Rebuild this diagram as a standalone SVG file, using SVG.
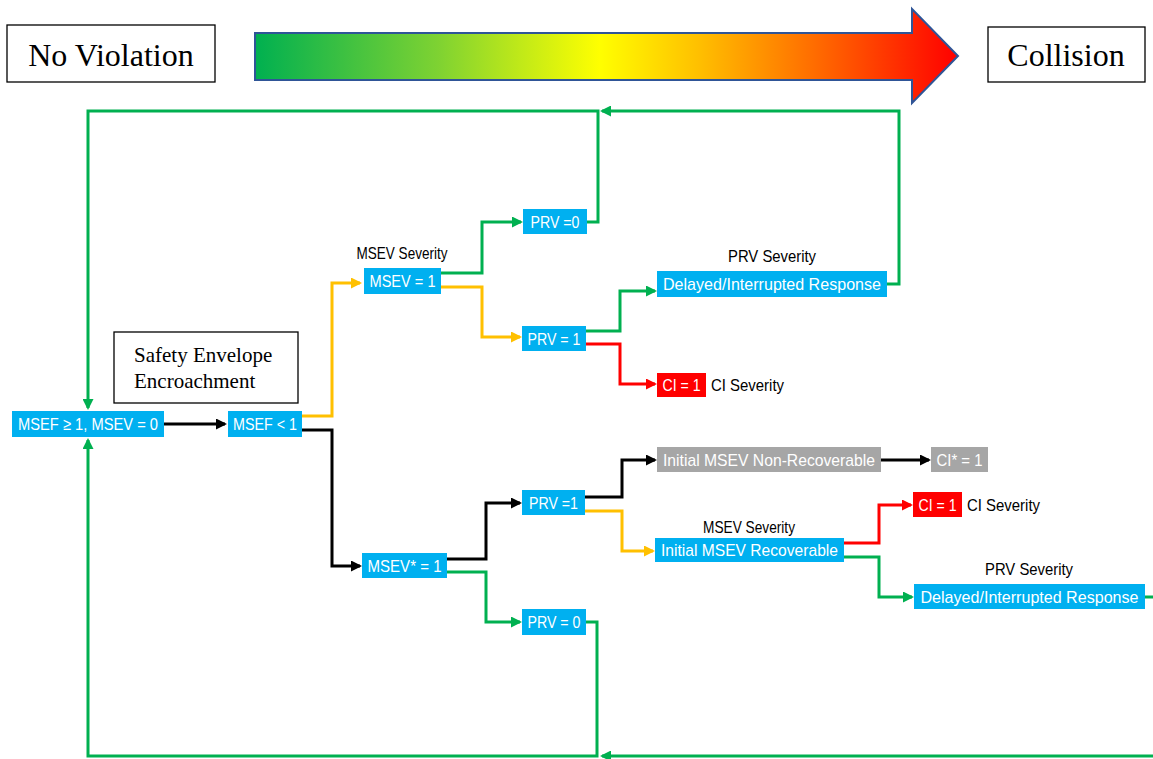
<svg xmlns="http://www.w3.org/2000/svg" width="1153" height="759" viewBox="0 0 1153 759">
<style>
.serif{font-family:"Liberation Serif","Times New Roman",serif;fill:#000}
.lbl{font-family:"Liberation Sans",Arial,sans-serif;font-size:17px;fill:#000}
.bt{font-family:"Liberation Sans",Arial,sans-serif;font-size:17px;fill:#fff;text-anchor:middle}
.blue{fill:#00B0F0}
.gray{fill:#A6A6A6}
.red{fill:#FF0000}
.frame{fill:#fff;stroke:#000;stroke-width:1.3}
.c{fill:none;stroke-width:3;stroke-linejoin:miter}
.g{stroke:#00B050}
.y{stroke:#FFC000}
.k{stroke:#000}
.r{stroke:#FF0000}
</style>
<defs>
<linearGradient id="grad" gradientUnits="userSpaceOnUse" x1="255" y1="0" x2="958" y2="0">
<stop offset="0" stop-color="#00B050"/>
<stop offset="0.26" stop-color="#7ED232"/>
<stop offset="0.49" stop-color="#FFFF00"/>
<stop offset="0.63" stop-color="#FFC000"/>
<stop offset="0.8" stop-color="#FF6A00"/>
<stop offset="1" stop-color="#FF0000"/>
</linearGradient>
<marker id="mg" markerWidth="11" markerHeight="11" refX="9" refY="5.5" orient="auto" markerUnits="userSpaceOnUse"><path d="M0,0 L11,5.5 L0,11 z" fill="#00B050"/></marker>
<marker id="my" markerWidth="11" markerHeight="11" refX="9" refY="5.5" orient="auto" markerUnits="userSpaceOnUse"><path d="M0,0 L11,5.5 L0,11 z" fill="#FFC000"/></marker>
<marker id="mk" markerWidth="11" markerHeight="11" refX="9" refY="5.5" orient="auto" markerUnits="userSpaceOnUse"><path d="M0,0 L11,5.5 L0,11 z" fill="#000"/></marker>
<marker id="mr" markerWidth="11" markerHeight="11" refX="9" refY="5.5" orient="auto" markerUnits="userSpaceOnUse"><path d="M0,0 L11,5.5 L0,11 z" fill="#FF0000"/></marker>
</defs>
<rect width="1153" height="759" fill="#fff"/>

<g id="scale-arrow">
<polygon points="255,33 912,33 912,9 958,56 912,103 912,80 255,80" fill="url(#grad)" stroke="#2F5597" stroke-width="2"/>
</g>
<g id="no-violation">
<rect class="frame" x="7" y="25" width="208" height="57"/>
<text class="serif" x="111" y="66" font-size="32" text-anchor="middle">No Violation</text>
</g>
<g id="collision">
<rect class="frame" x="988" y="27" width="157" height="55"/>
<text class="serif" x="1066" y="66" font-size="32" text-anchor="middle">Collision</text>
</g>
<g id="safety-envelope">
<rect class="frame" x="114" y="332" width="184" height="71"/>
<text class="serif" x="134" y="362" font-size="21">Safety Envelope</text>
<text class="serif" x="134" y="388" font-size="21">Encroachment</text>
</g>

<g id="connectors">
<path class="c k" d="M164,424 H225" marker-end="url(#mk)"/>
<path class="c y" d="M302,416 H332 V283 H360" marker-end="url(#my)"/>
<path class="c k" d="M302,430 H332 V566 H360" marker-end="url(#mk)"/>
<path class="c g" d="M441,273 H482 V222 H521" marker-end="url(#mg)"/>
<path class="c y" d="M441,287 H482 V337 H520" marker-end="url(#my)"/>
<path class="c g" d="M586,331 H620 V291 H655" marker-end="url(#mg)"/>
<path class="c r" d="M586,344 H620 V384 H655" marker-end="url(#mr)"/>
<path class="c g" d="M587,222 H598 V111 H88 V408" marker-end="url(#mg)"/>
<path class="c g" d="M887,284 H899 V111 H602" marker-end="url(#mg)"/>
<path class="c k" d="M447,559 H486 V503 H520" marker-end="url(#mk)"/>
<path class="c g" d="M447,572 H486 V622 H520" marker-end="url(#mg)"/>
<path class="c k" d="M585,497 H622 V460 H655" marker-end="url(#mk)"/>
<path class="c y" d="M585,511 H622 V551 H653" marker-end="url(#my)"/>
<path class="c k" d="M881,460 H929" marker-end="url(#mk)"/>
<path class="c r" d="M844,543 H879 V505 H911" marker-end="url(#mr)"/>
<path class="c g" d="M844,557 H879 V597 H912" marker-end="url(#mg)"/>
<path class="c g" d="M586,622 H597 V756 H88 V440" marker-end="url(#mg)"/>
<path class="c g" d="M1145,597 H1160 V756 H602" marker-end="url(#mg)"/>
</g>

<g id="msef-ok"><rect class="blue" x="12" y="411" width="152" height="26"/><text class="bt" x="88" y="430" textLength="140" lengthAdjust="spacingAndGlyphs">MSEF ≥ 1, MSEV = 0</text></g>
<g id="msef-lt1"><rect class="blue" x="228" y="411" width="74" height="26"/><text class="bt" x="265" y="430" textLength="64" lengthAdjust="spacingAndGlyphs">MSEF &lt; 1</text></g>
<g id="msev1"><text class="lbl" x="402" y="259" font-size="15" text-anchor="middle" textLength="91" lengthAdjust="spacingAndGlyphs">MSEV Severity</text><rect class="blue" x="364" y="268" width="77" height="26"/><text class="bt" x="402.5" y="287" textLength="66" lengthAdjust="spacingAndGlyphs">MSEV = 1</text></g>
<g id="prv0-top"><rect class="blue" x="523" y="209" width="64" height="25"/><text class="bt" x="555" y="228" textLength="49" lengthAdjust="spacingAndGlyphs">PRV =0</text></g>
<g id="prv1-top"><rect class="blue" x="522" y="326" width="64" height="25"/><text class="bt" x="554" y="345" textLength="53" lengthAdjust="spacingAndGlyphs">PRV = 1</text></g>
<g id="delayed-top"><text class="lbl" x="772" y="262" text-anchor="middle" textLength="88" lengthAdjust="spacingAndGlyphs">PRV Severity</text><rect class="blue" x="657" y="271" width="230" height="26"/><text class="bt" x="772" y="290" textLength="218" lengthAdjust="spacingAndGlyphs">Delayed/Interrupted Response</text></g>
<g id="ci1-top"><rect class="red" x="657" y="373" width="49" height="24"/><text class="bt" x="681.5" y="391" textLength="38" lengthAdjust="spacingAndGlyphs">CI = 1</text><text class="lbl" x="711" y="391" textLength="73" lengthAdjust="spacingAndGlyphs">CI Severity</text></g>
<g id="msevstar1"><rect class="blue" x="362" y="553" width="85" height="25"/><text class="bt" x="404.5" y="572" textLength="74" lengthAdjust="spacingAndGlyphs">MSEV* = 1</text></g>
<g id="prv1-low"><rect class="blue" x="522" y="490" width="63" height="25"/><text class="bt" x="553.5" y="509" textLength="49" lengthAdjust="spacingAndGlyphs">PRV =1</text></g>
<g id="prv0-low"><rect class="blue" x="522" y="609" width="64" height="26"/><text class="bt" x="554" y="628" textLength="53" lengthAdjust="spacingAndGlyphs">PRV = 0</text></g>
<g id="nonrec"><rect class="gray" x="657" y="447" width="224" height="25"/><text class="bt" x="769" y="466" textLength="212" lengthAdjust="spacingAndGlyphs">Initial MSEV Non-Recoverable</text></g>
<g id="cistar"><rect class="gray" x="931" y="447" width="57" height="25"/><text class="bt" x="959.5" y="466" textLength="46" lengthAdjust="spacingAndGlyphs">CI* = 1</text></g>
<g id="recov"><text class="lbl" x="749" y="533" font-size="15" text-anchor="middle" textLength="92" lengthAdjust="spacingAndGlyphs">MSEV Severity</text><rect class="blue" x="655" y="538" width="189" height="24"/><text class="bt" x="749.5" y="556" textLength="177" lengthAdjust="spacingAndGlyphs">Initial MSEV Recoverable</text></g>
<g id="ci1-low"><rect class="red" x="913" y="492" width="49" height="25"/><text class="bt" x="937.5" y="511" textLength="38" lengthAdjust="spacingAndGlyphs">CI = 1</text><text class="lbl" x="967" y="511" textLength="73" lengthAdjust="spacingAndGlyphs">CI Severity</text></g>
<g id="delayed-low"><text class="lbl" x="1029" y="575" text-anchor="middle" textLength="88" lengthAdjust="spacingAndGlyphs">PRV Severity</text><rect class="blue" x="914" y="584" width="231" height="25"/><text class="bt" x="1029.5" y="603" textLength="218" lengthAdjust="spacingAndGlyphs">Delayed/Interrupted Response</text></g>
</svg>
